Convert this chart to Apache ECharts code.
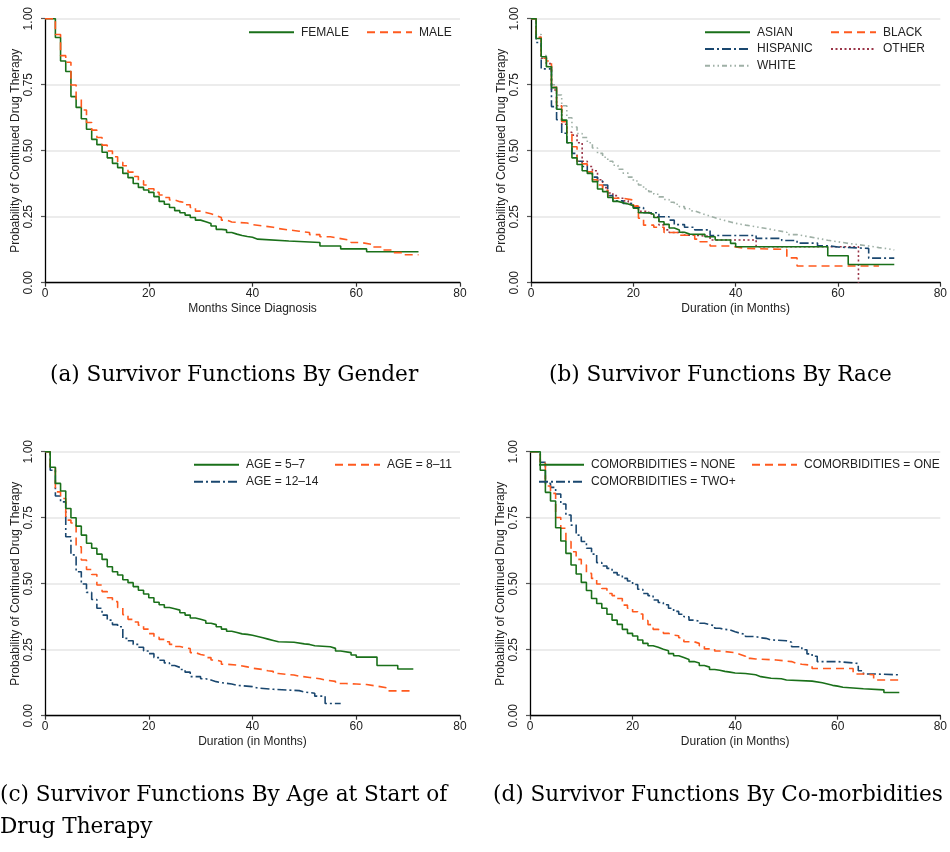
<!DOCTYPE html>
<html><head><meta charset="utf-8">
<script src="https://cdn.jsdelivr.net/npm/echarts@6/dist/echarts.min.js"></script>
<style>html,body{margin:0;padding:0;background:#fff}#c{width:950px;height:852px}</style>
</head><body><div id="c"></div>
<script>
// ---- tick labels / titles ----
const xTicks = [0, 20, 40, 60, 80];
const yTicks = [0, 0.25, 0.5, 0.75, 1];
const xTitles = ['Months Since Diagnosis', 'Duration (in Months)', 'Duration (in Months)', 'Duration (in Months)'];
const yTitle = 'Probability of Continued Drug Therapy';
const captionA = '(a) Survivor Functions By Gender';
const captionB = '(b) Survivor Functions By Race';
const captionC1 = '(c) Survivor Functions By Age at Start of';
const captionC2 = 'Drug Therapy';
const captionD = '(d) Survivor Functions By Co-morbidities';

// ---- panel (a): gender ----
const female = [[0,1],[2,0.929],[3,0.84],[4,0.80],[5,0.705],[6,0.664],[7,0.621],[8,0.581],[9,0.543],[10,0.523],[11,0.494],[12,0.473],[13,0.452],[14,0.436],[15,0.414],[16,0.398],[17,0.376],[18,0.361],[19,0.351],[20,0.342],[21,0.326],[22,0.308],[23,0.297],[24,0.285],[25,0.273],[26,0.265],[27,0.256],[28,0.247],[29,0.237],[30,0.231],[31,0.224],[32,0.215],[33,0.202],[34,0.2],[35,0.19],[36,0.184],[37,0.179],[38,0.175],[39,0.172],[40,0.165],[41,0.158],[47,0.152],[53,0.139],[57,0.128],[62,0.117],[72,0.117]];
const male = [[0,1],[2,0.94],[3,0.86],[4,0.835],[5,0.749],[6,0.696],[7,0.654],[8,0.607],[9,0.578],[10,0.55],[11,0.521],[12,0.499],[13,0.477],[14,0.456],[15,0.443],[16,0.419],[17,0.402],[18,0.386],[19,0.37],[20,0.356],[21,0.342],[22,0.332],[23,0.323],[24,0.313],[25,0.307],[26,0.304],[27,0.295],[28,0.285],[29,0.271],[30,0.266],[31,0.261],[32,0.254],[33,0.247],[34,0.237],[35,0.23],[36,0.226],[39,0.22],[40,0.215],[42,0.21],[44,0.205],[45,0.2],[47,0.195],[49,0.19],[51,0.182],[53,0.174],[55,0.167],[57,0.16],[59,0.152],[61,0.145],[63,0.135],[65,0.124],[67,0.114],[69,0.106],[72,0.106]];

// ---- panel (b): race ----
const asian = [[0,1],[1,0.925],[2,0.856],[3,0.818],[4,0.739],[5,0.657],[6,0.616],[7,0.53],[8,0.473],[9,0.448],[10,0.424],[11,0.414],[12,0.383],[13,0.355],[14,0.345],[15,0.323],[16,0.308],[17,0.303],[18,0.298],[19,0.292],[20,0.282],[21,0.265],[23,0.259],[24,0.247],[25,0.231],[26,0.221],[27,0.207],[28,0.2],[29,0.191],[30,0.184],[31,0.183],[34,0.174],[36,0.162],[39,0.149],[40,0.136],[58,0.102],[62,0.069],[71,0.069]];
const black = [[0,1],[1,0.93],[2,0.85],[3,0.84],[4,0.74],[5,0.669],[6,0.61],[7,0.566],[8,0.515],[9,0.46],[10,0.45],[11,0.42],[12,0.39],[13,0.37],[14,0.35],[15,0.33],[16,0.32],[18,0.313],[20,0.29],[21,0.244],[22,0.218],[24,0.21],[26,0.19],[29,0.18],[32,0.165],[33,0.155],[35,0.139],[39,0.135],[40,0.13],[42,0.126],[50,0.094],[52,0.063],[68,0.063]];
const hispanic = [[0,1],[1,0.91],[2,0.81],[4,0.667],[5,0.617],[6,0.566],[7,0.53],[8,0.49],[9,0.46],[10,0.44],[11,0.42],[12,0.40],[13,0.385],[14,0.37],[15,0.33],[16,0.31],[18,0.3],[20,0.285],[22,0.265],[25,0.25],[27,0.237],[28,0.22],[30,0.21],[32,0.2],[35,0.179],[44,0.168],[49,0.16],[52,0.15],[56,0.14],[58,0.135],[60,0.13],[66,0.093],[71,0.093]];
const other = [[0,1],[1,0.93],[2,0.85],[3,0.83],[4,0.73],[5,0.67],[6,0.60],[7,0.57],[8,0.559],[9,0.53],[10,0.46],[11,0.44],[12,0.424],[13,0.39],[14,0.36],[15,0.34],[16,0.33],[17,0.32],[18,0.31],[19,0.30],[20,0.29],[21,0.27],[23,0.26],[24,0.25],[25,0.219],[26,0.2],[27,0.19],[30,0.18],[32,0.175],[35,0.162],[44,0.136],[64,0]];
const white = [[0,1],[1,0.94],[2,0.86],[3,0.82],[4,0.75],[5,0.711],[6,0.67],[7,0.625],[8,0.59],[9,0.565],[10,0.55],[11,0.53],[12,0.51],[13,0.49],[14,0.475],[15,0.46],[16,0.445],[17,0.43],[18,0.415],[19,0.40],[20,0.385],[21,0.37],[22,0.355],[23,0.345],[24,0.335],[25,0.325],[26,0.315],[27,0.305],[28,0.297],[29,0.288],[30,0.28],[31,0.272],[32,0.265],[33,0.258],[34,0.252],[35,0.246],[36,0.24],[37,0.235],[38,0.23],[39,0.225],[40,0.218],[42,0.212],[44,0.205],[46,0.198],[48,0.191],[50,0.182],[52,0.175],[54,0.168],[56,0.161],[58,0.155],[60,0.149],[62,0.144],[64,0.139],[66,0.133],[68,0.128],[70,0.124],[71,0.124]];

// ---- panel (c): age ----
const age57 = [[0,1],[1,0.941],[2,0.88],[3,0.851],[4,0.785],[5,0.75],[6,0.718],[7,0.684],[8,0.653],[9,0.634],[10,0.612],[11,0.592],[12,0.564],[13,0.545],[14,0.533],[15,0.515],[16,0.504],[17,0.489],[18,0.475],[19,0.461],[20,0.447],[21,0.43],[22,0.42],[23,0.41],[24,0.405],[25,0.4],[26,0.39],[27,0.381],[28,0.37],[29,0.365],[30,0.36],[31,0.35],[32,0.345],[33,0.337],[34,0.328],[35,0.32],[36,0.315],[37,0.31],[38,0.308],[39,0.305],[40,0.30],[41,0.295],[42,0.29],[43,0.285],[44,0.28],[45,0.278],[48,0.272],[50,0.27],[51,0.265],[52,0.261],[55,0.255],[56,0.245],[57,0.239],[59,0.23],[60,0.222],[64,0.19],[68,0.177],[71,0.177]];
const age811 = [[0,1],[1,0.94],[2,0.848],[3,0.823],[4,0.741],[5,0.73],[6,0.64],[7,0.59],[8,0.554],[9,0.535],[10,0.495],[11,0.47],[12,0.447],[13,0.432],[14,0.41],[15,0.383],[16,0.365],[17,0.355],[18,0.343],[19,0.328],[20,0.311],[21,0.297],[22,0.289],[23,0.28],[24,0.27],[25,0.262],[26,0.258],[27,0.254],[28,0.239],[29,0.232],[30,0.228],[31,0.22],[32,0.211],[33,0.205],[34,0.195],[35,0.192],[37,0.185],[39,0.18],[40,0.175],[42,0.17],[43,0.168],[44,0.16],[45,0.154],[48,0.15],[49,0.145],[51,0.14],[53,0.135],[54,0.13],[56,0.122],[58,0.12],[60,0.118],[62,0.112],[64,0.105],[66,0.094],[71,0.094]];
const age1214 = [[0,1],[1,0.93],[2,0.832],[3,0.81],[4,0.678],[5,0.609],[6,0.545],[7,0.499],[8,0.467],[9,0.44],[10,0.407],[11,0.381],[12,0.362],[13,0.345],[14,0.337],[15,0.293],[16,0.284],[17,0.27],[18,0.259],[19,0.245],[20,0.235],[21,0.22],[22,0.21],[23,0.2],[24,0.19],[25,0.183],[26,0.175],[27,0.165],[28,0.148],[30,0.14],[31,0.135],[32,0.129],[33,0.125],[34,0.12],[36,0.115],[37,0.11],[40,0.105],[41,0.1],[44,0.095],[49,0.09],[50,0.085],[52,0.074],[54,0.046],[57,0.046]];

// ---- panel (d): comorbidities ----
const comNone = [[0,1],[2,0.93],[3,0.846],[4,0.813],[5,0.712],[6,0.662],[7,0.615],[8,0.571],[9,0.537],[10,0.505],[11,0.474],[12,0.444],[13,0.425],[14,0.407],[15,0.384],[16,0.362],[17,0.346],[18,0.327],[19,0.312],[20,0.302],[21,0.287],[22,0.274],[23,0.265],[24,0.259],[25,0.252],[26,0.246],[27,0.235],[28,0.227],[29,0.22],[30,0.213],[31,0.205],[32,0.2],[33,0.19],[34,0.184],[35,0.175],[36,0.172],[37,0.168],[38,0.165],[39,0.162],[40,0.16],[42,0.155],[44,0.148],[45,0.142],[47,0.14],[49,0.135],[50,0.131],[55,0.125],[57,0.12],[58,0.115],[59,0.112],[60,0.108],[61,0.102],[65,0.098],[69,0.088],[72,0.088]];
const comOne = [[0,1],[2,0.956],[3,0.87],[4,0.842],[5,0.751],[6,0.71],[7,0.66],[8,0.621],[9,0.592],[10,0.571],[11,0.539],[12,0.52],[13,0.499],[14,0.482],[15,0.463],[16,0.455],[17,0.444],[18,0.419],[19,0.407],[20,0.394],[21,0.385],[22,0.36],[23,0.345],[24,0.327],[25,0.32],[26,0.312],[27,0.305],[28,0.303],[29,0.295],[30,0.28],[32,0.274],[33,0.265],[34,0.253],[36,0.245],[37,0.239],[40,0.232],[41,0.225],[42,0.217],[43,0.215],[44,0.211],[48,0.205],[51,0.198],[52,0.195],[53,0.191],[55,0.179],[63,0.158],[65,0.155],[67,0.135],[72,0.135]];
const comTwo = [[0,1],[2,0.96],[3,0.88],[4,0.865],[5,0.84],[6,0.802],[7,0.76],[8,0.722],[9,0.684],[10,0.66],[11,0.634],[12,0.612],[13,0.58],[14,0.567],[15,0.558],[16,0.542],[17,0.533],[18,0.52],[19,0.51],[20,0.497],[21,0.479],[22,0.463],[23,0.455],[24,0.438],[25,0.429],[26,0.42],[27,0.407],[28,0.395],[29,0.384],[30,0.375],[31,0.362],[32,0.358],[33,0.35],[34,0.345],[35,0.341],[36,0.331],[37,0.327],[38,0.325],[39,0.318],[40,0.312],[41,0.308],[42,0.3],[44,0.295],[45,0.293],[46,0.287],[47,0.284],[50,0.278],[51,0.261],[53,0.25],[54,0.234],[55,0.225],[56,0.205],[60,0.198],[64,0.17],[65,0.158],[67,0.155],[72,0.155]];

// ---- styles ----
const GREEN = '#1a701a', ORANGE = '#ff5a1e', NAVY = '#1a476f', MAROON = '#9a3548', GRAY = '#9fb0a6';
const SOLID = 'solid', DASH = [8, 5], DASHDOT = [9, 3, 2, 3], DOT = [2, 2.5], DASHDOTDOT = [5, 3, 1.5, 3, 1.5, 3];
const FONT = 'Liberation Sans';

const grids = [
  {left: 45, top: 18.7, width: 415, height: 264},
  {left: 531, top: 18.7, width: 414, height: 264},
  {left: 45, top: 451.7, width: 415, height: 264},
  {left: 530, top: 451.7, width: 415, height: 264}
];

const seriesDefs = [
  {name: 'FEMALE', data: female, panel: 0, color: GREEN, dash: SOLID, leg: [248, 33.3]},
  {name: 'MALE', data: male, panel: 0, color: ORANGE, dash: DASH, leg: [366, 33.3]},
  {name: 'WHITE', data: white, panel: 1, color: GRAY, dash: DASHDOTDOT, leg: [704, 66.7]},
  {name: 'OTHER', data: other, panel: 1, color: MAROON, dash: DOT, leg: [830, 50]},
  {name: 'HISPANIC', data: hispanic, panel: 1, color: NAVY, dash: DASHDOT, leg: [704, 50]},
  {name: 'BLACK', data: black, panel: 1, color: ORANGE, dash: DASH, leg: [830, 33.3]},
  {name: 'ASIAN', data: asian, panel: 1, color: GREEN, dash: SOLID, leg: [704, 33.3]},
  {name: 'AGE = 12\u201314', data: age1214, panel: 2, color: NAVY, dash: DASHDOT, leg: [193, 482.7]},
  {name: 'AGE = 8\u201311', data: age811, panel: 2, color: ORANGE, dash: DASH, leg: [334, 465.7]},
  {name: 'AGE = 5\u20137', data: age57, panel: 2, color: GREEN, dash: SOLID, leg: [193, 465.7]},
  {name: 'COMORBIDITIES = TWO+', data: comTwo, panel: 3, color: NAVY, dash: DASHDOT, leg: [538, 482.7]},
  {name: 'COMORBIDITIES = ONE', data: comOne, panel: 3, color: ORANGE, dash: DASH, leg: [751, 465.7]},
  {name: 'COMORBIDITIES = NONE', data: comNone, panel: 3, color: GREEN, dash: SOLID, leg: [538, 465.7]}
];

const xAxes = grids.map((g, i) => ({
  type: 'value', gridIndex: i, min: xTicks[0], max: xTicks[xTicks.length - 1], interval: xTicks[1] - xTicks[0],
  name: xTitles[i], nameLocation: 'middle', nameGap: 20,
  nameTextStyle: {fontFamily: FONT, fontSize: 12, color: '#222'},
  axisLine: {show: true, onZero: false, lineStyle: {color: '#000', width: 1.3}},
  axisTick: {show: true, length: 4, lineStyle: {color: '#333', width: 1.2}},
  axisLabel: {fontFamily: FONT, fontSize: 12, color: '#222', margin: 5},
  splitLine: {show: false}
}));
const yAxes = grids.map((g, i) => ({
  type: 'value', gridIndex: i, min: yTicks[0], max: yTicks[yTicks.length - 1], interval: yTicks[1] - yTicks[0],
  name: yTitle, nameLocation: 'middle', nameGap: 22, nameRotate: 90,
  nameTextStyle: {fontFamily: FONT, fontSize: 12, color: '#222'},
  axisLine: {show: true, lineStyle: {color: '#000', width: 1.3}},
  axisTick: {show: true, length: 4, lineStyle: {color: '#555', width: 1.2}},
  axisLabel: {fontFamily: FONT, fontSize: 12, color: '#222', margin: 10, rotate: 90,
    formatter: v => v.toFixed(2)},
  splitLine: {show: true, lineStyle: {color: '#e6e6e6', width: 1.5}}
}));

const series = seriesDefs.map(s => ({
  name: s.name, type: 'line', step: 'end', data: s.data, xAxisIndex: s.panel, yAxisIndex: s.panel,
  symbol: 'none', showSymbol: false, animation: false, silent: true,
  lineStyle: {color: s.color, width: 1.6, type: s.dash},
  itemStyle: {color: s.color}
}));

const legends = seriesDefs.map(s => ({
  data: [s.name], left: s.leg[0], top: s.leg[1] - 7, orient: 'horizontal',
  itemWidth: 45, itemHeight: 14, itemGap: 0, padding: 0, selectedMode: false,
  itemStyle: {opacity: 0, borderWidth: 0},
  textStyle: {fontFamily: FONT, fontSize: 12, color: '#222', padding: [0, 0, 0, 2]}
}));

const capStyle = {fontFamily: 'DejaVu Serif', fontSize: 21.6, fontWeight: 'normal', color: '#000'};
const titles = [
  {text: captionA, left: 50, top: 364, textStyle: capStyle, padding: 0},
  {text: captionB, left: 549, top: 364, textStyle: capStyle, padding: 0},
  {text: captionC1, left: 0, top: 784, textStyle: capStyle, padding: 0},
  {text: captionC2, left: 0, top: 816, textStyle: capStyle, padding: 0},
  {text: captionD, left: 493, top: 784, textStyle: capStyle, padding: 0}
];

const chart = echarts.init(document.getElementById('c'), null, {renderer: 'canvas'});
chart.setOption({
  backgroundColor: '#fff',
  animation: false,
  title: titles,
  grid: grids,
  xAxis: xAxes,
  yAxis: yAxes,
  legend: legends,
  series: series
});
</script>
</body></html>
